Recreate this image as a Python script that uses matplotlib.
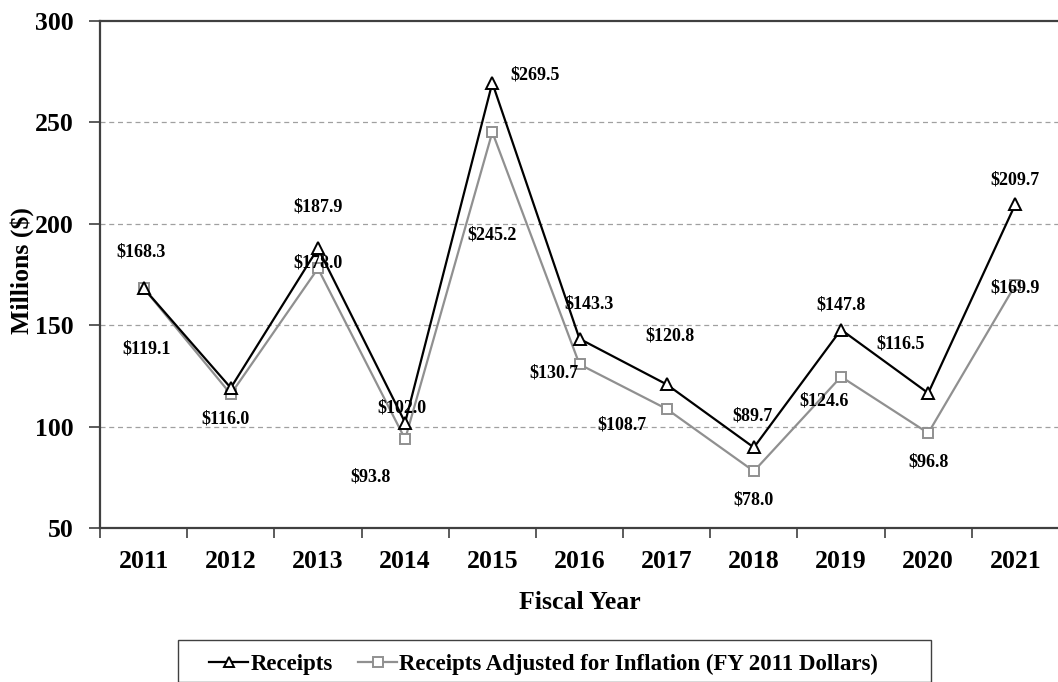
import numpy as np
import matplotlib.pyplot as plt
from matplotlib.patches import Rectangle

# Data
years = ['2011', '2012', '2013', '2014', '2015', '2016', '2017', '2018', '2019', '2020', '2021']
receipts = [168.3, 119.1, 187.9, 102.0, 269.5, 143.3, 120.8, 89.7, 147.8, 116.5, 209.7]
adjusted = [168.3, 116.0, 178.0, 93.8, 245.2, 130.7, 108.7, 78.0, 124.6, 96.8, 169.9]
y_ticks = [50, 100, 150, 200, 250, 300]

# label offsets in pixels (dx, dy) relative to each point
receipts_offsets = [(-3, 36), (-84, 39), (0, 41), (-3, 15), (43, 8), (10, 35), (3, 48), (-1, 31), (0, 25), (-28, 49), (0, 24)]
adjusted_offsets = [None, (-5, -25), (0, 5), (-35, -38), (0, -103), (-25, -9), (-45, -16), (0, -29), (-17, -24), (0, -29), (0, -3)]

plt.rcParams['font.family'] = ['Liberation Serif', 'DejaVu Serif']
plt.rcParams['font.weight'] = 'bold'

W, H = 1058, 682
fig = plt.figure(figsize=(W / 100, H / 100), dpi=100)
ax = fig.add_axes([100 / W, 1 - 528 / H, 959 / W, 507 / H])

x = np.arange(len(years))
ax.plot(x, receipts, color='black', lw=1.6, marker='^', markersize=8,
        markerfacecolor='white', markeredgecolor='black', markeredgewidth=1.4,
        label='Receipts', zorder=4)
ax.plot(x, adjusted, color='#909090', lw=1.6, marker='s', markersize=7.5,
        markerfacecolor='white', markeredgecolor='#909090', markeredgewidth=1.4,
        label='Receipts Adjusted for Inflation (FY 2011 Dollars)', zorder=3)

for i, v in enumerate(receipts):
    dx, dy = receipts_offsets[i]
    ax.annotate(f'${v:.1f}', (x[i], v), xytext=(dx, dy), textcoords='offset pixels',
                ha='center', va='center', fontsize=13, fontweight='bold')
for i, v in enumerate(adjusted):
    if adjusted_offsets[i] is None:
        continue
    dx, dy = adjusted_offsets[i]
    ax.annotate(f'${v:.1f}', (x[i], v), xytext=(dx, dy), textcoords='offset pixels',
                ha='center', va='center', fontsize=13, fontweight='bold')

ax.set_xlim(-0.5, len(years) - 0.5)
ax.set_ylim(50, 300)
ax.set_yticks(y_ticks)
ax.set_yticklabels([str(t) for t in y_ticks], fontsize=18.5, fontweight='bold')
ax.set_xticks(np.arange(len(years) + 1) - 0.5)
ax.set_xticklabels([])
ax.set_xticks(x, minor=True)
ax.set_xticklabels(years, minor=True, fontsize=18.5, fontweight='bold')
ax.tick_params(axis='x', which='major', length=7, width=1.2, color='#404040')
ax.tick_params(axis='x', which='minor', length=0, pad=16)
ax.tick_params(axis='y', length=8, width=1.2, color='#404040', pad=11)

for yv in y_ticks[1:-1]:
    ax.axhline(yv, color='#a0a0a0', lw=0.9, ls=(0, (4, 3)), zorder=1)

ax.spines['right'].set_visible(False)
for s in ['left', 'bottom', 'top']:
    ax.spines[s].set_color('#404040')
    ax.spines[s].set_linewidth(1.6)

ax.set_xlabel('Fiscal Year', fontsize=18.5, fontweight='bold', labelpad=13)
ax.set_ylabel('Millions ($)', fontsize=18.5, fontweight='bold', va='center')
ax.yaxis.set_label_coords((22 - 100) / 959, (528 - 271) / 507)

# legend frame drawn separately so it matches the reference box
fig.patches.append(Rectangle((178 / W, 0), (931 - 178) / W, 1 - 640 / H,
                             transform=fig.transFigure, fill=False,
                             edgecolor='#404040', lw=1.0))
leg = fig.legend(loc='center left', bbox_to_anchor=(198 / W, 1 - 664 / H), ncol=2,
                 fontsize=16.5, frameon=False, handlelength=1.7, columnspacing=1.1,
                 borderpad=0, handletextpad=0.1, markerscale=0.9)

fig.savefig('out.png', dpi=100)
